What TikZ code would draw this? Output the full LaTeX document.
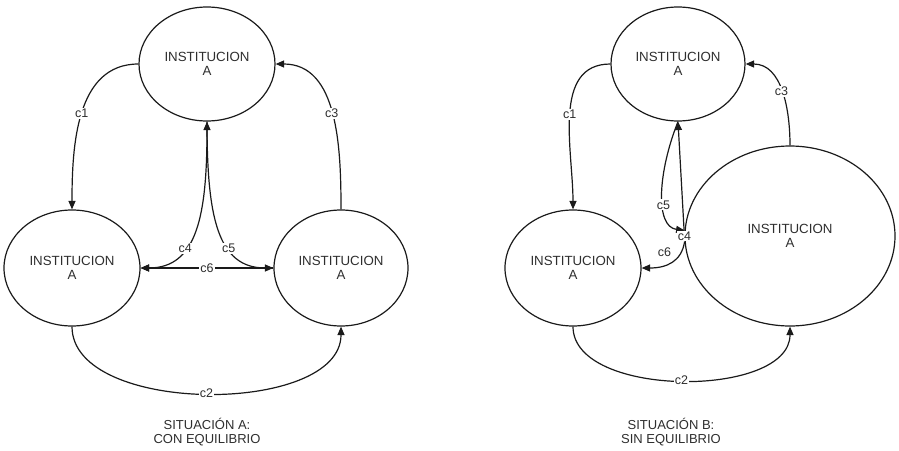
\documentclass[tikz,border=0pt]{standalone}
\usepackage{fontspec}
\setmainfont{Liberation Sans}
\usetikzlibrary{shapes.geometric,arrows.meta,calc}
\definecolor{linec}{HTML}{1A1A1A}
\definecolor{textc}{HTML}{2E2E2E}
\begin{document}
\begin{tikzpicture}[x=1pt,y=-1pt,
  inst/.style={ellipse,draw=linec,line width=1.2pt,inner sep=0pt,align=center,text=textc,font=\fontsize{13.3}{14.5}\selectfont},
  conn/.style={draw=linec,line width=1.2pt},
  arr/.style={conn,-{Triangle[length=8.5pt,width=7pt]}},
  arrb/.style={conn,{Triangle[length=8.5pt,width=7pt]}-{Triangle[length=8.5pt,width=7pt]}},
  lab/.style={fill=white,inner sep=1pt,text=textc,font=\fontsize{12.5}{14}\selectfont},
  captxt/.style={align=center,text=textc,font=\fontsize{13}{14}\selectfont}]
\useasboundingbox (0,0) rectangle (899,450);

% ---------- Situacion A ----------
\node[inst,minimum width=136pt,minimum height=114pt] (T1) at (207,64) {INSTITUCION\\A};
\node[inst,minimum width=136pt,minimum height=116pt] (L1) at (72,268) {INSTITUCION\\A};
\node[inst,minimum width=134pt,minimum height=116pt] (R1) at (341,268) {INSTITUCION\\A};

\draw[arr] (T1.west) to[out=180,in=90] node[lab]{c1} (L1.north);
\draw[arr] (R1.north) to[out=90,in=0] node[lab]{c3} (T1.east);
\draw[arr] (L1.south) to[out=-90,in=-90,looseness=0.85] node[lab]{c2} (R1.south);
\draw[arr] (R1.west) -- node[lab]{c6} (L1.east);
\draw[arrb] (T1.south) to[out=-90,in=0,out looseness=1.5,in looseness=0.9] node[lab,pos=0.64]{c4} (L1.east);
\draw[arr] (T1.south) to[out=-90,in=180,out looseness=1.5,in looseness=0.9] node[lab,pos=0.64]{c5} (R1.west);

\node[captxt] (capA) at (207,432) {SITUACIÓN A:\\CON EQUILIBRIO};

% ---------- Situacion B ----------
\node[inst,minimum width=134pt,minimum height=114pt] (T2) at (678,64) {INSTITUCION\\A};
\node[inst,minimum width=136pt,minimum height=116pt] (L2) at (573,268) {INSTITUCION\\A};
\node[inst,minimum width=210pt,minimum height=180pt] (B2) at (790,236) {INSTITUCION\\A};

\draw[arr] (T2.west) to[out=180,in=90] node[lab]{c1} (L2.north);
\draw[arr] (B2.north) to[out=90,in=0] node[lab]{c3} (T2.east);
\draw[arr] (L2.south) to[out=-90,in=-90,looseness=0.85] node[lab]{c2} (B2.south);
\draw[arr] (T2.south) .. controls +(-20,50) and +(-30,-4) .. node[lab,pos=0.6]{c5} (B2.177);
\draw[arr] (B2.183) .. controls +(-3,20) and +(25,0) .. node[lab,pos=0.5,xshift=-7pt,yshift=10pt]{c6} (L2.east);
\draw[arr] (B2.west) -- node[lab,pos=0]{c4} (T2.south);

\node[captxt] (capB) at (671,432) {SITUACIÓN B:\\SIN EQUILIBRIO};
\end{tikzpicture}
\end{document}
